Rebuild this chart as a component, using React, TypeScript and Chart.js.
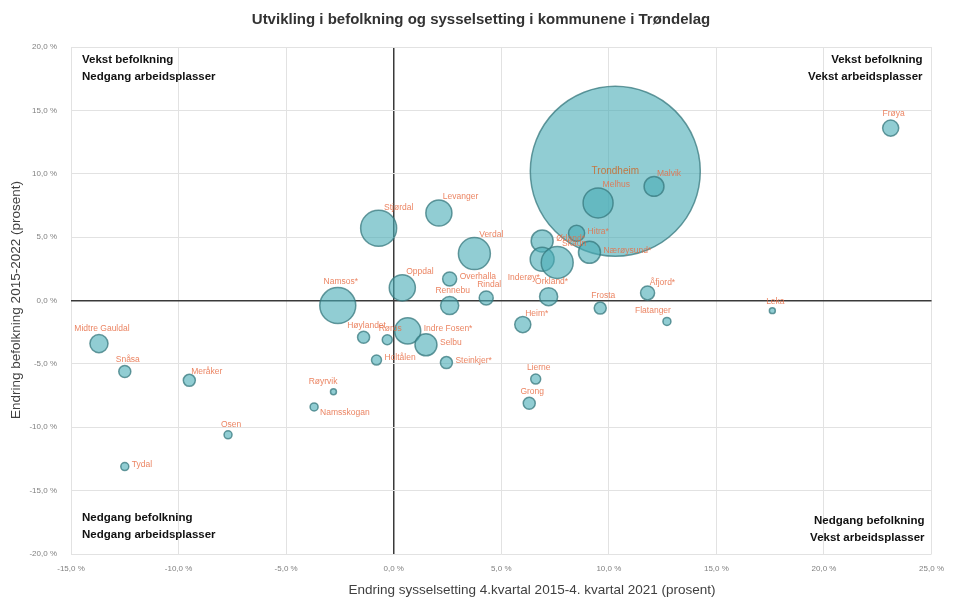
import React, { useEffect, useRef } from "react";
import { Chart, registerables } from "chart.js";

Chart.register(...registerables);

const names = [
  "Trondheim", "Malvik", "Melhus", "Frøya", "Hitra*", "Ørland*", "Nærøysund*", "Inderøy*", "Skaun",
  "Levanger", "Stjørdal", "Verdal", "Overhalla", "Oppdal", "Namsos*", "Rennebu", "Rindal", "Orkland*",
  "Åfjord*", "Frosta", "Flatanger", "Leka", "Heim*", "Indre Fosen*", "Selbu", "Høylandet", "Røros",
  "Steinkjer*", "Holtålen", "Lierne", "Grong", "Røyrvik", "Namsskogan", "Osen", "Tydal",
  "Midtre Gauldal", "Snåsa", "Meråker",
];

// Endring sysselsetting 4.kv 2015 - 4.kv 2021 (%)
const jobChange = [
  10.3, 12.1, 9.5, 23.1, 8.5, 6.9, 9.1, 6.9, 7.6,
  2.1, -0.7, 3.75, 2.6, 0.4, -2.6, 2.6, 4.3, 7.2,
  11.8, 9.6, 12.7, 17.6, 6.0, 0.65, 1.5, -1.4, -0.3,
  2.45, -0.8, 6.6, 6.3, -2.8, -3.7, -7.7, -12.5,
  -13.7, -12.5, -9.5,
];

// Endring befolkning 2015-2022 (%)
const popChange = [
  10.2, 9.0, 7.7, 13.6, 5.3, 4.7, 3.8, 3.25, 3.0,
  6.9, 5.7, 3.7, 1.7, 1.0, -0.4, -0.4, 0.2, 0.3,
  0.6, -0.6, -1.65, -0.8, -1.9, -2.4, -3.5, -2.9, -3.1,
  -4.9, -4.7, -6.2, -8.1, -7.2, -8.4, -10.6, -13.1,
  -3.4, -5.6, -6.3,
];

// Bubble size (relative, ~ thousands of inhabitants)
const bubbleSize = [
  212, 2.9, 6.6, 1.9, 1.9, 3.55, 3.55, 4.2, 7.5,
  5.0, 9.5, 7.5, 1.44, 5.0, 9.5, 2.4, 1.44, 2.4,
  1.44, 1.06, 0.47, 0.26, 1.9, 5.0, 3.55, 1.06, 0.73,
  1.06, 0.73, 0.73, 1.06, 0.26, 0.47, 0.47, 0.47,
  2.4, 1.06, 1.06,
];

// label placement: c=center, a=above, ar=above-right, r=right, bl=below-left, al=above-left, br=below-right
const labelPlace = [
  "c", "ar", "ar", "a", "r", "r", "r", "bl", "ar",
  "ar", "ar", "ar", "r", "ar", "a", "a", "a", "a",
  "ar", "a", "al", "a", "ar", "r", "r", "a", "a",
  "r", "r", "a", "a", "al", "br", "a", "r",
  "a", "a", "ar",
];

const xTicks = [-15, -10, -5, 0, 5, 10, 15, 20, 25];
const yTicks = [-20, -15, -10, -5, 0, 5, 10, 15, 20];

const title = "Utvikling i befolkning og sysselsetting i kommunene i Trøndelag";
const xTitle = "Endring sysselsetting 4.kvartal 2015-4. kvartal 2021 (prosent)";
const yTitle = "Endring befolkning 2015-2022 (prosent)";
const quadrants = {
  tl: ["Vekst befolkning", "Nedgang arbeidsplasser"],
  tr: ["Vekst befolkning", "Vekst arbeidsplasser"],
  bl: ["Nedgang befolkning", "Nedgang arbeidsplasser"],
  br: ["Nedgang befolkning", "Vekst arbeidsplasser"],
};

const FONT = "'Liberation Sans', Arial, sans-serif";
const NARROW = "'Liberation Sans Narrow', 'Liberation Sans', Arial, sans-serif";

const fmt = (v: number) => v.toFixed(1).replace(".", ",") + " %";

const annotate = {
  id: "annotate",
  afterDatasetsDraw(chart: any) {
    const { ctx, chartArea: a } = chart;
    ctx.save();
    // title
    ctx.fillStyle = "#333333";
    ctx.font = `bold 15px ${FONT}`;
    ctx.textAlign = "center";
    ctx.textBaseline = "middle";
    ctx.fillText(title, 481, 20);
    // axis titles
    ctx.fillStyle = "#404040";
    ctx.font = `13.5px ${NARROW}`;
    ctx.fillText(xTitle, 532, 590);
    ctx.save();
    ctx.translate(16, 300);
    ctx.rotate(-Math.PI / 2);
    ctx.fillText(yTitle, 0, 0);
    ctx.restore();
    // quadrant labels
    ctx.fillStyle = "#111111";
    ctx.font = `bold 11.5px ${FONT}`;
    ctx.textAlign = "left";
    ctx.fillText(quadrants.tl[0], a.left + 11, a.top + 13);
    ctx.fillText(quadrants.tl[1], a.left + 11, a.top + 30);
    ctx.fillText(quadrants.bl[0], a.left + 11, a.bottom - 36);
    ctx.fillText(quadrants.bl[1], a.left + 11, a.bottom - 19);
    ctx.textAlign = "right";
    ctx.fillText(quadrants.tr[0], a.right - 9, a.top + 13);
    ctx.fillText(quadrants.tr[1], a.right - 9, a.top + 30);
    ctx.fillText(quadrants.br[0], a.right - 7, a.bottom - 33);
    ctx.fillText(quadrants.br[1], a.right - 7, a.bottom - 16);
    // bubble labels
    const meta = chart.getDatasetMeta(0);
    meta.data.forEach((el: any, i: number) => {
      const r = el.options.radius;
      const px = el.x;
      const py = el.y;
      const p = labelPlace[i];
      ctx.fillStyle = "rgba(232, 110, 70, 0.85)";
      ctx.font = `8.5px ${FONT}`;
      ctx.textBaseline = "middle";
      let tx = px, ty = py;
      if (p === "c") {
        ctx.fillStyle = "rgba(200, 110, 50, 0.9)";
        ctx.font = `10px ${FONT}`;
        ctx.textAlign = "center";
      } else if (p === "a") {
        ctx.textAlign = "center";
        tx = px + 3;
        ty = py - r - 6;
      } else if (p === "ar") {
        ctx.textAlign = "left";
        tx = px + r * 0.3;
        ty = py - r - 3;
      } else if (p === "r") {
        ctx.textAlign = "left";
        tx = px + r + 3;
        ty = py - 2;
      } else if (p === "bl") {
        ctx.textAlign = "right";
        tx = px - r * 0.2;
        ty = py + r + 6;
      } else if (p === "al") {
        ctx.textAlign = "right";
        tx = px + 4;
        ty = py - r - 7;
      } else if (p === "br") {
        ctx.textAlign = "left";
        tx = px + r + 2;
        ty = py + r + 2;
      }
      ctx.fillText(names[i], tx, ty);
    });
    ctx.restore();
  },
};

export default function App() {
  const ref = useRef<HTMLCanvasElement | null>(null);
  useEffect(() => {
    if (!ref.current) return;
    const maxSize = Math.max(...bubbleSize);
    const MAX_R = 85;
    const data = names.map((_, i) => ({
      x: jobChange[i],
      y: popChange[i],
      r: MAX_R * Math.sqrt(bubbleSize[i] / maxSize),
    }));
    const gridColor = (c: any) => (c.tick && c.tick.value === 0 ? "#3a3a3a" : "#e2e2e2");
    const gridWidth = (c: any) => (c.tick && c.tick.value === 0 ? 1.5 : 1);
    const chart = new Chart(ref.current, {
      type: "bubble",
      data: {
        datasets: [
          {
            label: "Kommuner",
            data,
            backgroundColor: "rgba(72, 172, 182, 0.6)",
            borderColor: "rgba(55, 120, 125, 0.75)",
            borderWidth: 1.5,
            clip: false,
          },
        ],
      },
      options: {
        responsive: false,
        animation: false,
        layout: { autoPadding: false, padding: { top: 47, right: 19, left: 0, bottom: 0 } },
        plugins: {
          legend: { display: false },
          tooltip: { enabled: false },
          title: { display: false },
        },
        scales: {
          x: {
            type: "linear",
            min: -15,
            max: 25,
            afterBuildTicks: (s: any) => { s.ticks = xTicks.map((v) => ({ value: v })); },
            afterFit: (s: any) => { s.height = 49; },
            border: { display: false },
            grid: { drawTicks: false, color: gridColor, lineWidth: gridWidth },
            ticks: {
              padding: 10,
              color: "#808080",
              font: { family: FONT, size: 8 },
              callback: (v: any) => fmt(Number(v)),
              maxRotation: 0,
            },
          },
          y: {
            type: "linear",
            min: -20,
            max: 20,
            afterBuildTicks: (s: any) => { s.ticks = yTicks.map((v) => ({ value: v })); },
            afterFit: (s: any) => { s.width = 71; },
            border: { display: false },
            grid: { drawTicks: false, color: gridColor, lineWidth: gridWidth },
            ticks: {
              padding: 14,
              color: "#808080",
              font: { family: FONT, size: 8 },
              callback: (v: any) => fmt(Number(v)),
            },
          },
        },
      },
      plugins: [annotate],
    });
    return () => chart.destroy();
  }, []);
  return (
    <div style={{ position: "fixed", left: 0, top: 0, width: 954, height: 603, background: "#fff" }}>
      <canvas ref={ref} width={954} height={603} style={{ width: 954, height: 603, display: "block" }} />
    </div>
  );
}
